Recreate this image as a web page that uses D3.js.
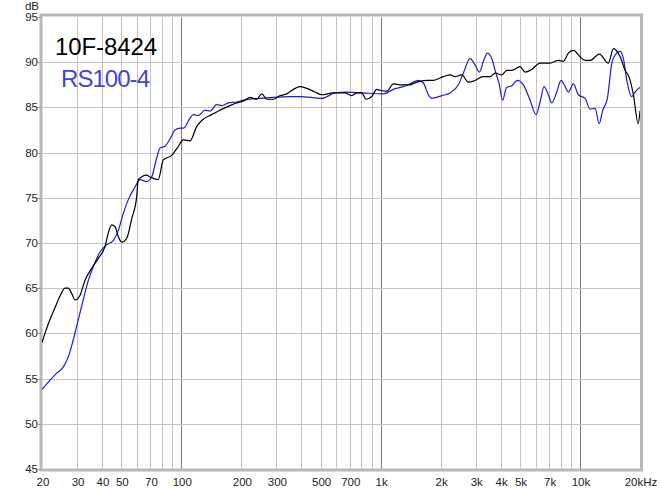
<!DOCTYPE html>
<html><head><meta charset="utf-8">
<script src="https://cdn.jsdelivr.net/npm/d3@7"></script>
<style>body{margin:0;background:#fff}svg{display:block}text{font-family:"Liberation Sans",Arial,sans-serif}</style>
</head><body><svg id="c" width="662" height="493"></svg>
<script>
const seriesNames = ["10F-8424", "RS100-4"];
const seriesColors = ["#000000", "#1c1ce0"];
const blackFreq = [20,20.7,21.9,23.2,24.6,26.1,27.1,28.2,29.3,31.0,32.9,35.5,38.3,41.4,43.0,44.7,46.5,48.3,50.2,53.2,56.4,59.7,60.8,67.0,69.7,76.6,81.2,89.5,96.6,102.3,110.6,119.5,128.9,142.1,153.3,175.5,189.7,204.7,221.2,239.0,253.3,268.3,289.6,312.9,338.0,372.0,394.1,425.8,468.6,506.4,578.8,662.8,716.2,758.6,803.7,844.8,902.2,955.8,992.8,1073,1158,1251,1405,1518,1704,1838,2064,2230,2362,2552,2754,2918,3276,3540,3750,4052,4292,4548,5006,5304,5730,6306,7078,7790,8254,8744,9264,10008,10604,11234,12514,13880,14706,15898,16842,17600,18500,19600,20000];
const blackDb = [59.0,60.0,61.5,62.8,64.1,65.0,65.0,64.4,63.7,64.2,65.9,67.2,68.3,69.6,71.1,72.0,71.8,70.7,70.1,70.5,72.7,75.1,77.0,77.5,77.3,77.0,79.2,79.7,80.7,81.4,81.3,82.9,83.7,84.2,84.6,85.2,85.5,85.7,86.1,85.9,86.5,85.9,85.9,86.3,86.5,87.1,87.3,87.1,86.7,86.4,86.6,86.6,86.3,86.6,86.6,85.9,86.2,87.0,86.9,86.8,87.6,87.5,87.5,87.8,88.0,88.0,88.4,88.6,88.4,88.6,87.8,87.9,88.4,88.4,88.8,88.6,89.1,89.1,89.5,88.9,89.2,89.9,89.9,90.2,90.1,91.0,91.3,90.6,90.2,90.2,90.9,89.9,91.5,90.6,89.1,88.4,86.5,83.2,84.6,85.2];
const blueFreq = [20,21.9,23.7,25.6,27.1,28.7,30.4,32.2,34.2,36.2,39.1,42.2,45.6,48.3,51.2,54.2,58.6,62.0,67.0,71.0,75.2,78.2,82.8,87.7,93.0,98.5,102.3,110.6,114.8,121.7,131.5,139.3,150.5,159.5,172.1,189.7,204.7,248.2,351.0,394.1,506.4,590.4,676,819,1032,1158,1300,1405,1546,1638,1735,1804,2026,2230,2454,2600,2808,2976,3128,3276,3432,3610,3750,3940,4090,4282,4548,4850,5200,5618,6022,6306,6604,6940,7218,7646,8038,8420,8744,9264,9814,10604,11234,11908,12470,13014,13722,14440,15002,15898,16510,17174,18192,18900,19634,20000];
const blueDb = [53.8,54.8,55.6,56.3,57.4,59.3,61.5,63.7,65.9,67.4,69.0,69.8,70.3,71.4,73.3,74.8,76.2,77.0,76.8,77.3,79.4,80.5,80.7,81.5,82.5,82.7,82.7,83.8,84.2,84.1,84.7,84.6,85.3,85.2,85.5,85.6,85.8,86.0,86.2,86.2,86.0,86.6,86.7,86.6,86.5,87.0,87.3,87.6,88.0,87.7,86.4,86.0,86.3,86.6,87.5,88.8,90.4,89.7,88.9,90.1,91.0,90.4,89.1,87.5,85.8,87.2,87.4,88.0,87.5,85.8,84.2,85.6,87.3,86.4,85.5,86.7,88.0,87.3,86.7,87.6,86.4,86.0,84.8,84.9,83.2,84.7,86.0,89.9,90.8,91.2,90.4,88.0,86.2,86.7,87.1,87.2];
const yTicks = [45,50,55,60,65,70,75,80,85,90,95];
const xTickVals = [20,30,40,50,70,100,200,300,500,700,1000,2000,3000,4000,5000,7000,10000,20000];
const xTickLabels = ["20","30","40","50","70","100","200","300","500","700","1k","2k","3k","4k","5k","7k","10k","20kHz"];

const svg = d3.select("#c");
const L = 42, R = 640, T = 17, B = 469;
const x = d3.scaleLog().domain([20, 20000]).range([L, R]);
const y = d3.scaleLinear().domain([45, 95]).range([B, T]);

// grid
const grid = svg.append("g");
const minor = [];
for (let d = 10; d <= 10000; d *= 10) for (let m = 1; m <= 9; m++) { const f = d*m; if (f > 20 && f < 20000) minor.push(f); }
grid.selectAll("line.v").data(minor).enter().append("line")
  .attr("x1", d => Math.round(x(d)) + 0.5).attr("x2", d => Math.round(x(d)) + 0.5)
  .attr("y1", T).attr("y2", B)
  .attr("stroke", d => [100,1000,10000].includes(d) ? "#7a7a7a" : "#c4c4c4").attr("stroke-width", 1);
grid.selectAll("line.h").data(yTicks.slice(1, -1)).enter().append("line")
  .attr("x1", L).attr("x2", R)
  .attr("y1", d => Math.round(y(d)) + 0.5).attr("y2", d => Math.round(y(d)) + 0.5)
  .attr("stroke", "#c4c4c4");

// frame
svg.append("rect").attr("x", L - 1).attr("y", T - 2).attr("width", R - L + 2.5).attr("height", B - T + 3)
  .attr("fill", "none").attr("stroke", "#b8b8b8").attr("stroke-width", 3);

// y labels
svg.selectAll("text.yl").data(yTicks).enter().append("text")
  .attr("x", 38).attr("y", d => y(d) + 4).attr("text-anchor", "end")
  .attr("font-size", 11.5).attr("fill", "#222").text(d => d);
svg.selectAll("line.yt").data(yTicks).enter().append("line")
  .attr("x1", 37).attr("x2", 41).attr("y1", d => Math.round(y(d)) + 0.5).attr("y2", d => Math.round(y(d)) + 0.5)
  .attr("stroke", "#999");
svg.append("text").attr("x", 39).attr("y", 10).attr("text-anchor", "end").attr("font-size", 11.5).attr("fill", "#222").text("dB");

// x labels
svg.selectAll("text.xl").data(xTickVals).enter().append("text")
  .attr("x", d => x(d) + 1).attr("y", 486).attr("text-anchor", "middle")
  .attr("font-size", 11.5).attr("fill", "#222").text((d, i) => xTickLabels[i]);

// curves
const line = d3.line().x(d => x(d[0])).y(d => y(d[1])).curve(d3.curveMonotoneX);
const sets = [d3.zip(blackFreq, blackDb), d3.zip(blueFreq, blueDb)];
svg.append("defs").append("clipPath").attr("id", "clip").append("rect").attr("x", L).attr("y", T).attr("width", R - L).attr("height", B - T);
[1, 0].forEach(i => {
  svg.append("path").attr("d", line(sets[i])).attr("fill", "none")
    .attr("stroke", seriesColors[i]).attr("stroke-width", 1.2).attr("clip-path", "url(#clip)");
});

// legend
svg.append("text").attr("x", 55).attr("y", 55).attr("font-size", 24).attr("fill", "#000").attr("textLength", 102).text(seriesNames[0]);
svg.append("text").attr("x", 61).attr("y", 87).attr("font-size", 24).attr("fill", "#4545d4").attr("textLength", 89).text(seriesNames[1]);
</script></body></html>
